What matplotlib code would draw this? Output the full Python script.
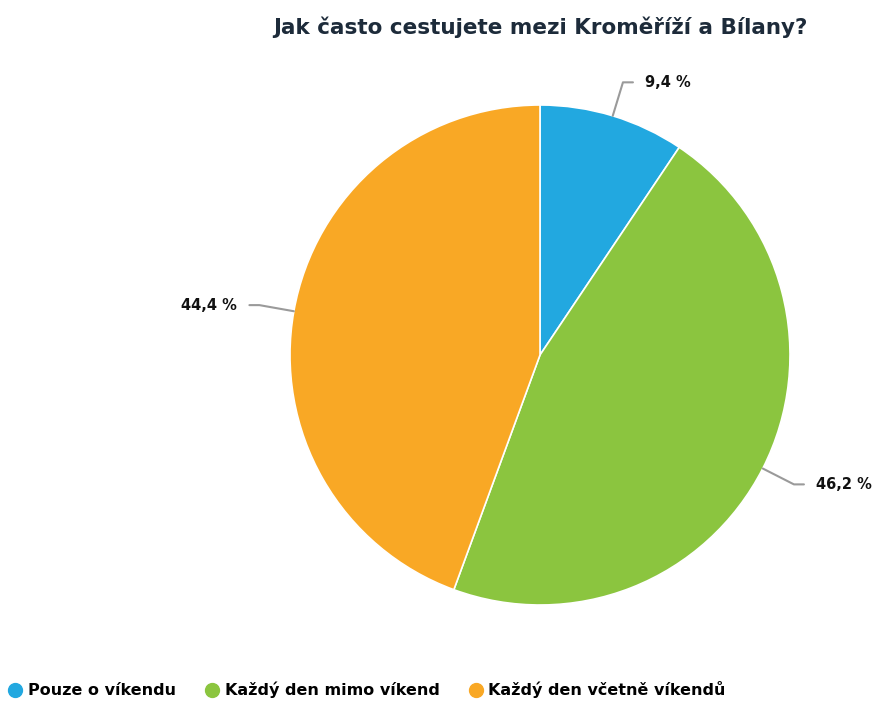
import numpy as np
import matplotlib.pyplot as plt

title = "Jak často cestujete mezi Kroměříží a Bílany?"
categories = ["Pouze o víkendu", "Každý den mimo víkend", "Každý den včetně víkendů"]
shares = [9.4, 46.2, 44.4]
colors = ["#22a8e0", "#8bc53f", "#f9a825"]

fig = plt.figure(figsize=(8.72, 7.09), dpi=100)
ax = fig.add_axes([0, 0, 1, 1])

wedges, _ = ax.pie(shares, colors=colors, startangle=90, counterclock=False,
                   radius=1, center=(0, 0), frame=True,
                   wedgeprops=dict(edgecolor="white", linewidth=1.2))

# pie centred at (0, 0) with radius 1; limits chosen so 1 unit = 250 px
ax.set_xlim(-540 / 250, (872 - 540) / 250)
ax.set_ylim(-(709 - 355) / 250, 355 / 250)
ax.axis("off")

for w, val in zip(wedges, shares):
    mid = np.deg2rad((w.theta1 + w.theta2) / 2)
    c, s = np.cos(mid), np.sin(mid)
    p0 = (1.0 * c, 1.0 * s)
    p1 = (1.14 * c, 1.14 * s)
    side = 1 if c >= 0 else -1
    p2 = (p1[0] + side * 0.04, p1[1])
    ax.plot([p0[0], p1[0], p2[0]], [p0[1], p1[1], p2[1]],
            color="#9a9a9a", lw=1.5, solid_capstyle="round")
    ax.text(p2[0] + side * 0.05, p2[1], f"{val:.1f} %".replace(".", ","),
            ha="left" if side > 0 else "right", va="center",
            fontsize=10.5, fontweight="bold", color="#111111")

fig.text(0.62, 0.961, title, ha="center", va="center", fontsize=15.5,
         fontweight="bold", color="#1d2b3a")

handles = [plt.Line2D([], [], marker="o", ls="", markersize=10, color=col)
           for col in colors]
fig.legend(handles, categories, loc="lower left", bbox_to_anchor=(-0.008, -0.005),
           ncol=3, frameon=False, handletextpad=0.3,
           columnspacing=1.75, handlelength=1.0,
           prop=dict(weight="bold", size=11.5))

fig.savefig("out.png", dpi=100, facecolor="white")
